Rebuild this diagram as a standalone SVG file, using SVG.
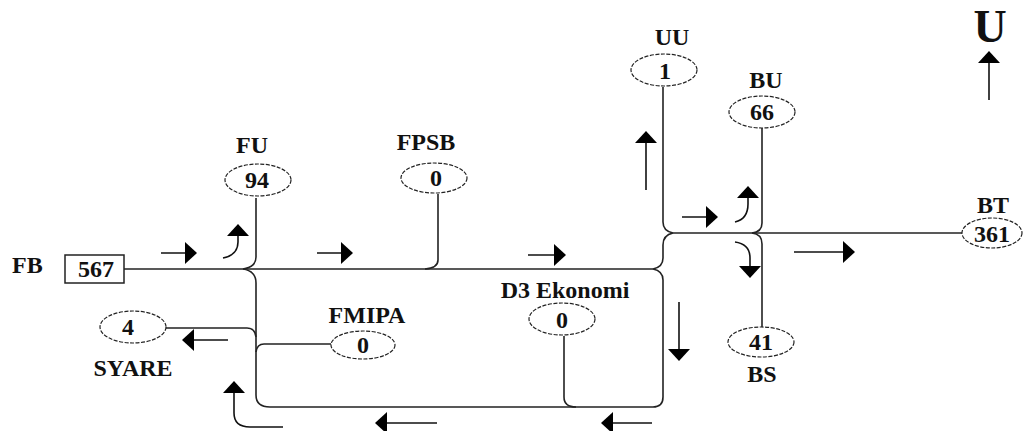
<svg xmlns="http://www.w3.org/2000/svg" width="1023" height="431" viewBox="0 0 1023 431">
<defs>
<style>
.t{font-family:"Liberation Serif","Times New Roman",serif;font-weight:bold;font-size:24px;fill:#111;text-anchor:middle}
.n{fill:#fff;stroke:#222;stroke-width:1.2;stroke-dasharray:4 1.5}
.c{fill:none;stroke:#222;stroke-width:1.6}
.a{fill:none;stroke:#111;stroke-width:1.6;marker-end:url(#ah)}
</style>
<marker id="ah" viewBox="0 0 12 22" refX="11" refY="11" markerWidth="12" markerHeight="22" orient="auto" markerUnits="userSpaceOnUse">
<path d="M0,0 L12,11 L0,22 Z" fill="#000"/>
</marker>
</defs>
<rect width="1023" height="431" fill="#fff"/>

<g id="connectors">
<path class="c" d="M124,269 H653"/>
<path class="c" d="M256,198 V257 Q256,267 243,269 Q256,271 256,283 V395 Q256,407 270,407 H653 Q663,407 663,397 V280 Q663,271 653,269 Q663,267 663,258 V245 Q663,235 673,233 Q663,231 663,222 V87"/>
<path class="c" d="M673,233 H962"/>
<path class="c" d="M438,194 V260 Q438,268 425,269"/>
<path class="c" d="M762,128 V223 Q762,232 752,233 Q762,234 762,244 V327"/>
<path class="c" d="M331,344 H264 Q257,344 256,352"/>
<path class="c" d="M166,328 H247 Q255,328 256,337"/>
<path class="c" d="M564,336 V397 Q564,407 576,407"/>
</g>

<g id="arrows">
<path class="a" d="M161,253 H196"/>
<path class="a" d="M317,253 H352"/>
<path class="a" d="M528,255 H565"/>
<path class="a" d="M682,217 H717"/>
<path class="a" d="M794,252 H854"/>
<path class="a" d="M228,340 H183"/>
<path class="a" d="M437,423 H376"/>
<path class="a" d="M652,423 H602"/>
<path class="a" d="M679,302 V360"/>
<path class="a" d="M646,190 V132"/>
<path class="a" d="M989,100 V52"/>
<path class="a" d="M223,258 Q238,255 238,242 V225"/>
<path class="a" d="M735,222 Q748,219 748,204 V187"/>
<path class="a" d="M735,242 Q750,244 750,258 V277"/>
<path class="a" d="M283,427 H250 Q234,427 234,413 V382"/>
</g>

<g id="node-FB">
<text class="t" x="12" y="273" style="text-anchor:start">FB</text>
<rect x="65" y="255" width="59" height="28" fill="#fff" stroke="#222" stroke-width="1.5"/>
<text class="t" x="96" y="277">567</text>
</g>
<g id="node-FU">
<text class="t" x="252" y="153">FU</text>
<ellipse class="n" cx="258" cy="180" rx="33" ry="16"/>
<text class="t" x="257" y="188">94</text>
</g>
<g id="node-FPSB">
<text class="t" x="426" y="150">FPSB</text>
<ellipse class="n" cx="434" cy="178" rx="33" ry="15"/>
<text class="t" x="436" y="186">0</text>
</g>
<g id="node-UU">
<text class="t" x="672" y="45">UU</text>
<ellipse class="n" cx="664" cy="70" rx="33" ry="16"/>
<text class="t" x="665" y="79">1</text>
</g>
<g id="node-BU">
<text class="t" x="766" y="88">BU</text>
<ellipse class="n" cx="762" cy="112" rx="33" ry="16"/>
<text class="t" x="762" y="120">66</text>
</g>
<g id="node-BT">
<text class="t" x="993" y="213">BT</text>
<ellipse class="n" cx="992" cy="233" rx="30" ry="15"/>
<text class="t" x="992" y="242">361</text>
</g>
<g id="node-BS">
<ellipse class="n" cx="761" cy="342" rx="33" ry="15"/>
<text class="t" x="761" y="350">41</text>
<text class="t" x="762" y="382">BS</text>
</g>
<g id="node-SYARE">
<ellipse class="n" cx="133" cy="327" rx="33" ry="16"/>
<text class="t" x="128" y="335">4</text>
<text class="t" x="133" y="376">SYARE</text>
</g>
<g id="node-FMIPA">
<text class="t" x="367" y="323">FMIPA</text>
<ellipse class="n" cx="363" cy="345" rx="32" ry="14"/>
<text class="t" x="363" y="353">0</text>
</g>
<g id="node-D3">
<text class="t" x="565" y="298">D3 Ekonomi</text>
<ellipse class="n" cx="562" cy="319" rx="33" ry="16"/>
<text class="t" x="562" y="328">0</text>
</g>
<g id="compass">
<text class="t" x="990" y="42" style="font-size:46px">U</text>
</g>
</svg>
